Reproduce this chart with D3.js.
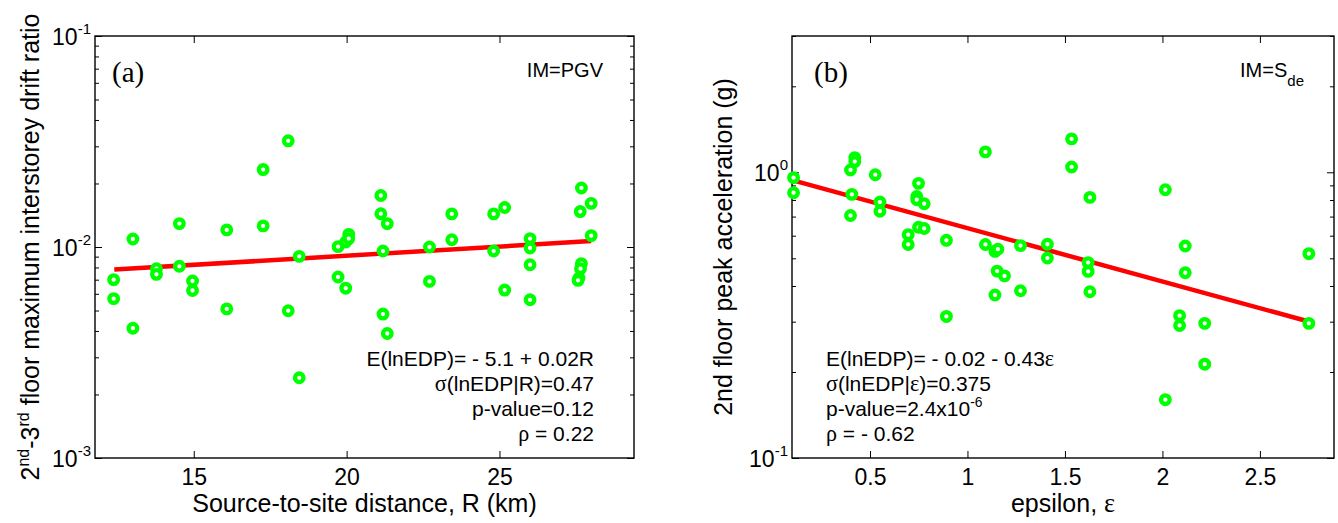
<!DOCTYPE html>
<html><head><meta charset="utf-8">
<script src="https://cdn.jsdelivr.net/npm/d3@7"></script>
<style>body{margin:0;background:#fff}</style>
</head><body><svg id="c" width="1338" height="523" font-family="Liberation Sans, Arial, sans-serif"></svg>
<script>
// ---------- Panel (a) data ----------
const distR = [12.38,12.38,13.01,13.01,13.78,13.78,14.53,14.53,14.96,14.96,16.08,16.08,17.27,17.27,18.09,18.09,18.45,18.45,19.72,19.72,19.97,19.97,20.07,20.07,21.12,21.12,21.19,21.33,21.19,21.33,22.71,22.71,23.44,23.44,24.81,24.81,25.17,25.17,26.0,26.0,26.0,26.0,27.68,27.64,28.0,28.0,27.68,27.65,27.60,27.57];
const driftRatio = [0.0070,0.00569,0.01091,0.00412,0.00789,0.00742,0.01291,0.00810,0.00690,0.00622,0.01205,0.00509,0.02328,0.01259,0.03186,0.00499,0.00903,0.00240,0.01004,0.00721,0.00638,0.01056,0.01148,0.01096,0.01754,0.01438,0.00957,0.01291,0.00481,0.00389,0.0100,0.00687,0.01435,0.01083,0.01435,0.00957,0.01538,0.00625,0.01096,0.00989,0.00824,0.00562,0.01905,0.01472,0.01610,0.01132,0.00834,0.00789,0.00713,0.00695];
const fitCoefA = [-5.1, 0.02];          // E(lnEDP) = a + b R
const fitRangeA = [12.4, 28.0];
const xTicksA = [15, 20, 25];
const yTicksA = [1e-3, 1e-2, 1e-1];
const yTickExpA = ["-3", "-2", "-1"];
const annoA = ["E(lnEDP)= - 5.1 + 0.02R", "σ(lnEDP|R)=0.47", "p-value=0.12", "ρ = 0.22"];

// ---------- Panel (b) data ----------
const epsVals = [0.108,0.108,0.400,0.422,0.422,0.407,0.400,0.527,0.551,0.551,0.749,0.740,0.740,0.778,0.749,0.778,0.696,0.696,0.892,0.892,1.092,1.092,1.141,1.156,1.152,1.190,1.141,1.272,1.272,1.410,1.410,1.534,1.534,1.628,1.619,1.619,1.628,2.015,2.015,2.117,2.117,2.088,2.088,2.217,2.217,2.751,2.751];
const peakAcc = [0.958,0.848,1.019,1.126,1.090,0.837,0.706,0.981,0.787,0.731,0.915,0.823,0.802,0.776,0.642,0.636,0.605,0.559,0.578,0.313,1.179,0.559,0.529,0.538,0.451,0.434,0.372,0.554,0.385,0.560,0.501,1.309,1.044,0.817,0.483,0.450,0.382,0.869,0.160,0.552,0.445,0.315,0.291,0.296,0.213,0.519,0.296];
const fitCoefB = [-0.02, -0.43];        // E(lnEDP) = a + b eps
const fitRangeB = [0.11, 2.75];
const xTicksB = [0.5, 1, 1.5, 2, 2.5];
const yTicksB = [0.1, 1];
const yTickExpB = ["-1", "0"];
const annoB = ["E(lnEDP)= - 0.02 - 0.43ε", "σ(lnEDP|ε)=0.375", "p-value=2.4x10^-6", "ρ = - 0.62"];

const SANS = "'Liberation Sans', Arial, sans-serif";
const SERIF = "'Liberation Serif', 'Times New Roman', serif";
const svg = d3.select("#c");

function rich(textSel, str, baseSize) {
  const re = /(\^-?\d+)|([σρε])|([^σρε^]+)/g;
  let m, shifted = false;
  while ((m = re.exec(str)) !== null) {
    if (m[1]) {
      textSel.append("tspan").attr("dy", -9).style("font-size", (baseSize * 0.66) + "px").text(m[1].slice(1));
      shifted = true;
    } else if (m[2]) {
      const t = textSel.append("tspan").style("font-family", SERIF).style("font-size", (baseSize * 1.05) + "px").text(m[2]);
      if (shifted) { t.attr("dy", 9); shifted = false; }
    } else {
      const t = textSel.append("tspan").text(m[3]);
      if (shifted) { t.attr("dy", 9); shifted = false; }
    }
  }
}

function panel(o) {
  const g = svg.append("g");
  const x = d3.scaleLinear().domain(o.xDom).range([o.L, o.R]);
  const y = d3.scaleLog().domain(o.yDom).range([o.B, o.T]);
  const minor = y.ticks().filter(v => v >= o.yDom[0] * 0.999 && v <= o.yDom[1] * 1.001 && !o.yTicks.some(t => Math.abs(t - v) / t < 1e-6));

  const ax = g.append("g").attr("transform", `translate(0,${o.B})`)
    .call(d3.axisBottom(x).tickValues(o.xTicks).tickSizeInner(-7).tickSizeOuter(0).tickPadding(11).tickFormat(d3.format("")));
  ax.select(".domain").remove();
  ax.attr("font-family", null).attr("font-size", null);
  ax.selectAll("text").style("font-size", "23px").style("font-family", SANS);

  const at = g.append("g").attr("transform", `translate(0,${o.T})`)
    .call(d3.axisTop(x).tickValues(o.xTicks).tickSizeInner(-7).tickSizeOuter(0).tickFormat(""));
  at.select(".domain").remove();

  const al = g.append("g").attr("transform", `translate(${o.L},0)`)
    .call(d3.axisLeft(y).tickValues(o.yTicks).tickSizeInner(-7).tickSizeOuter(0).tickPadding(4));
  al.select(".domain").remove();
  al.selectAll(".tick text").each(function (d, i) {
    const t = d3.select(this).text(null).style("font-size", "23px").style("font-family", SANS).attr("dy", "0.36em");
    t.append("tspan").text("10");
    t.append("tspan").attr("dy", -11).style("font-size", "15px").text(o.yExp[i]);
  });
  g.append("g").attr("transform", `translate(${o.L},0)`)
    .call(d3.axisLeft(y).tickValues(minor).tickSizeInner(-4).tickSizeOuter(0).tickFormat(""))
    .select(".domain").remove();
  g.append("g").attr("transform", `translate(${o.R},0)`)
    .call(d3.axisRight(y).tickValues(o.yTicks).tickSizeInner(-7).tickSizeOuter(0).tickFormat(""))
    .select(".domain").remove();
  g.append("g").attr("transform", `translate(${o.R},0)`)
    .call(d3.axisRight(y).tickValues(minor).tickSizeInner(-4).tickSizeOuter(0).tickFormat(""))
    .select(".domain").remove();
  g.selectAll(".tick line").attr("stroke", "#000").attr("stroke-width", 1);

  g.append("rect").attr("x", o.L).attr("y", o.T).attr("width", o.R - o.L).attr("height", o.B - o.T)
    .attr("fill", "none").attr("stroke", "#000").attr("stroke-width", 1.4);

  const fx = o.fitRange;
  g.append("line")
    .attr("x1", x(fx[0])).attr("y1", y(Math.exp(o.fit[0] + o.fit[1] * fx[0])))
    .attr("x2", x(fx[1])).attr("y2", y(Math.exp(o.fit[0] + o.fit[1] * fx[1])))
    .attr("stroke", "#ff0000").attr("stroke-width", 4.5);

  g.append("g").selectAll("circle").data(o.xs).join("circle")
    .attr("cx", d => x(d)).attr("cy", (d, i) => y(o.ys[i]))
    .attr("r", 4.3).attr("fill", "#fff").attr("stroke", "#00ff00").attr("stroke-width", 4.3);

  g.append("text").attr("x", o.L + o.letterDx).attr("y", 82)
    .style("font-family", SERIF).style("font-size", "29px").text(o.letter);

  const im = g.append("text").attr("x", o.R - o.imDx).attr("y", 77).attr("text-anchor", "end").style("font-size", "20px");
  im.append("tspan").text(o.im[0]);
  if (o.im[1]) im.append("tspan").attr("dy", 9).style("font-size", "15px").text(o.im[1]);

  o.anno.forEach((s, i) => {
    const t = g.append("text").attr("x", o.annoX).attr("y", 366 + i * 25)
      .attr("text-anchor", o.annoAnchor).style("font-size", "21px");
    rich(t, s, 21);
  });

  const xt = g.append("text").attr("x", (o.L + o.R) / 2).attr("y", 512).attr("text-anchor", "middle").style("font-size", "25px");
  rich(xt, o.xTitle, 25);

  const yt = g.append("text").attr("transform", `translate(${o.yTitleX},${(o.T + o.B) / 2}) rotate(-90)`)
    .attr("text-anchor", "middle").style("font-size", "25px");
  o.yTitle.forEach(seg => {
    const sp = yt.append("tspan").text(seg[0]);
    if (seg[1] === "sup") sp.style("font-size", "16px").attr("dy", -10);
    if (seg[1] === "back") sp.attr("dy", 10);
  });
}

panel({
  L: 95, R: 634, T: 36, B: 458,
  xDom: [11.77, 29.4], yDom: [1e-3, 1e-1],
  xTicks: xTicksA, yTicks: yTicksA, yExp: yTickExpA,
  xs: distR, ys: driftRatio, fit: fitCoefA, fitRange: fitRangeA,
  letter: "(a)", letterDx: 17, im: ["IM=PGV"], imDx: 31,
  anno: annoA, annoX: 594, annoAnchor: "end",
  xTitle: "Source-to-site distance, R (km)",
  yTitle: [["2"], ["nd", "sup"], ["-3", "back"], ["rd", "sup"], [" floor maximum interstorey drift ratio", "back"]],
  yTitleX: 39
});

panel({
  L: 792, R: 1334, T: 36, B: 458,
  xDom: [0.1, 2.88], yDom: [0.1, 3.0],
  xTicks: xTicksB, yTicks: yTicksB, yExp: yTickExpB,
  xs: epsVals, ys: peakAcc, fit: fitCoefB, fitRange: fitRangeB,
  letter: "(b)", letterDx: 22, im: ["IM=S", "de"], imDx: 30,
  anno: annoB, annoX: 826, annoAnchor: "start",
  xTitle: "epsilon, ε",
  yTitle: [["2nd floor peak acceleration (g)"]],
  yTitleX: 732
});
</script>
</body></html>
